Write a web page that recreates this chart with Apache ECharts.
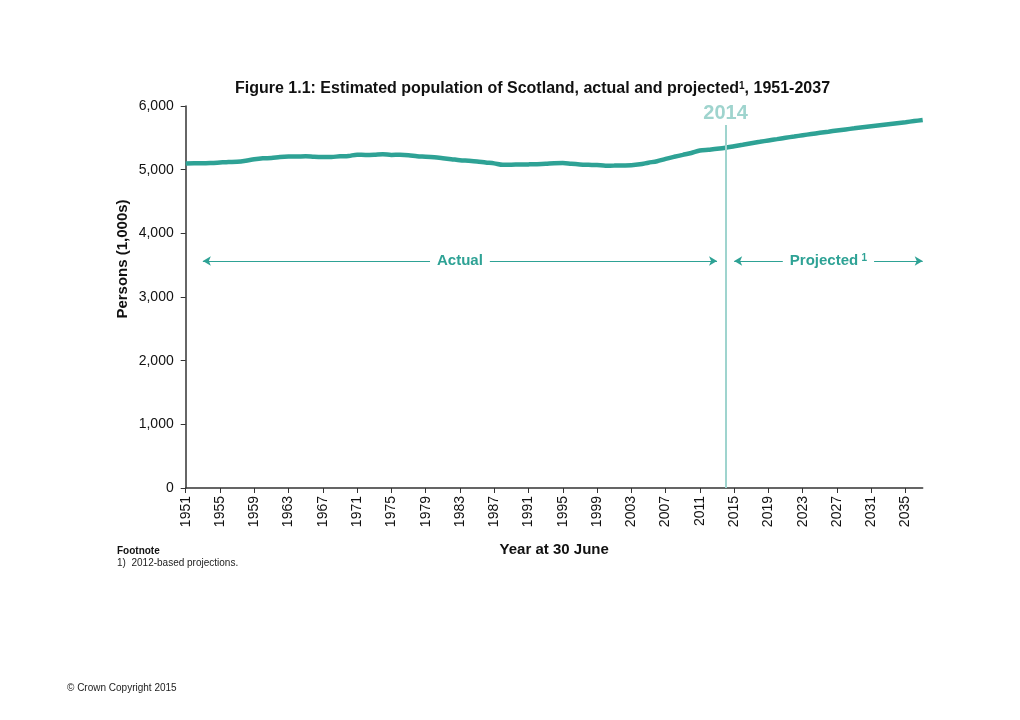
<!DOCTYPE html>
<html><head><meta charset="utf-8">
<script src="https://cdn.jsdelivr.net/npm/echarts@6/dist/echarts.min.js"></script>
<style>html,body{margin:0;padding:0;background:#fff}#c{width:1020px;height:720px}</style>
</head><body><div id="c"></div>
<script>
const FONT = '"Liberation Sans", Arial, sans-serif';
const years = [];
for (let y = 1951; y <= 2037; y++) years.push(String(y));
// Population (thousands), actual 1951-2013, projected 2014-2037
const population = [
  5096, 5100, 5099, 5104, 5112, 5120, 5125, 5141, 5163, 5178,
  5184, 5198, 5205, 5206, 5210, 5201, 5198, 5200, 5209, 5214,
  5236, 5231, 5234, 5241, 5232, 5233, 5226, 5212, 5204, 5194,
  5180, 5165, 5148, 5139, 5128, 5112, 5099, 5077, 5078, 5081,
  5083, 5086, 5092, 5102, 5104, 5092, 5083, 5077, 5072, 5063,
  5064, 5066, 5069, 5084, 5110, 5133, 5170, 5202, 5232, 5262,
  5300, 5314, 5328,
  5345, 5369, 5392, 5415, 5437, 5459, 5480, 5501, 5521, 5541,
  5560, 5579, 5597, 5615, 5632, 5649, 5666, 5682, 5698, 5714,
  5730, 5746, 5763, 5780
];
const yTicks = [0, 1000, 2000, 3000, 4000, 5000, 6000];
const splitYear = '2014';
const arrowLevel = 3565;

const teal = '#2ea295';
const lightTeal = '#9fd4ce';

const chart = echarts.init(document.getElementById('c'), null, {renderer: 'canvas'});
chart.setOption({
  animation: false,
  backgroundColor: '#fff',
  title: {
    text: 'Figure 1.1: Estimated population of Scotland, actual and projected{s|1}, 1951-2037',
    left: 230, top: 76,
    textStyle: {
      fontFamily: FONT, fontSize: 16, fontWeight: 'bold', color: '#111',
      rich: { s: { fontFamily: FONT, fontSize: 10, fontWeight: 'bold', color: '#111', verticalAlign: 'top', padding: [0,0,6,0] } }
    }
  },
  grid: { left: 185.7, right: 97.3, top: 106, bottom: 232, containLabel: false },
  xAxis: {
    type: 'category', data: years, boundaryGap: false,
    name: 'Year at 30 June', nameLocation: 'middle', nameGap: 54,
    nameTextStyle: { fontFamily: FONT, fontSize: 15, fontWeight: 'bold', color: '#111' },
    axisLine: { lineStyle: { color: '#333', width: 1.5 } },
    axisTick: { interval: 3, length: 5, lineStyle: { color: '#333' } },
    axisLabel: { interval: 3, rotate: 90, margin: 8, fontFamily: FONT, fontSize: 14, color: '#111' },
    splitLine: { show: false }
  },
  yAxis: {
    type: 'value', min: yTicks[0], max: yTicks[yTicks.length-1], interval: 1000,
    axisLine: { show: true, lineStyle: { color: '#333', width: 1.5 } },
    axisTick: { show: true, length: 5, lineStyle: { color: '#333' } },
    axisLabel: { margin: 12, fontFamily: FONT, fontSize: 14, color: '#111',
      formatter: v => v.toLocaleString('en-GB') },
    splitLine: { show: false }
  },
  series: [{
    type: 'line', data: population, smooth: 0.3, showSymbol: false, symbol: 'none',
    lineStyle: { color: teal, width: 4.5 },
    z: 3,
    markLine: {
      silent: true, animation: false, precision: 0,
      data: [
        [
          { coord: [splitYear, 0], symbol: 'none' },
          { coord: [splitYear, 5700], symbol: 'none',
            lineStyle: { color: lightTeal, width: 2, type: 'solid' },
            label: { show: true, position: 'end', formatter: '2014', distance: 2,
              fontFamily: FONT, fontSize: 20, fontWeight: 'bold', color: lightTeal } }
        ],
        [
          { coord: ['1953', arrowLevel], symbol: 'arrow', symbolSize: [7, 8] },
          { coord: ['2013', arrowLevel], symbol: 'arrow', symbolSize: [7, 8],
            lineStyle: { color: teal, width: 1.2, type: 'solid' },
            label: { show: true, position: 'middle', formatter: 'Actual', distance: 0,
              verticalAlign: 'middle',
              fontFamily: FONT, fontSize: 15, fontWeight: 'bold', color: teal,
              backgroundColor: '#fff', padding: [2, 7] } }
        ],
        [
          { coord: ['2015', arrowLevel], symbol: 'arrow', symbolSize: [7, 8] },
          { coord: ['2037', arrowLevel], symbol: 'arrow', symbolSize: [7, 8],
            lineStyle: { color: teal, width: 1.2, type: 'solid' },
            label: { show: true, position: 'middle', formatter: '{a|Projected} {s|1}', distance: 0,
              verticalAlign: 'middle',
              backgroundColor: '#fff', padding: [2, 7],
              rich: {
                a: { fontFamily: FONT, fontSize: 15, fontWeight: 'bold', color: teal },
                s: { fontFamily: FONT, fontSize: 10, fontWeight: 'bold', color: teal, verticalAlign: 'top', padding: [0,0,6,0] }
              } } }
        ]
      ]
    }
  }],
  graphic: [
    { type: 'text', x: 123, y: 259, rotation: Math.PI / 2,
      style: { text: 'Persons (1,000s)', font: 'bold 15px ' + FONT, fill: '#111', align: 'center', verticalAlign: 'middle' } },
    { type: 'text', left: 117, top: 546, style: { text: 'Footnote', font: 'bold 10px ' + FONT, fill: '#111' } },
    { type: 'text', left: 117, top: 558, style: { text: '1)  2012-based projections.', font: '10px ' + FONT, fill: '#222' } },
    { type: 'text', left: 67, top: 683, style: { text: '© Crown Copyright 2015', font: '10px ' + FONT, fill: '#222' } }
  ]
});
</script>
</body></html>
